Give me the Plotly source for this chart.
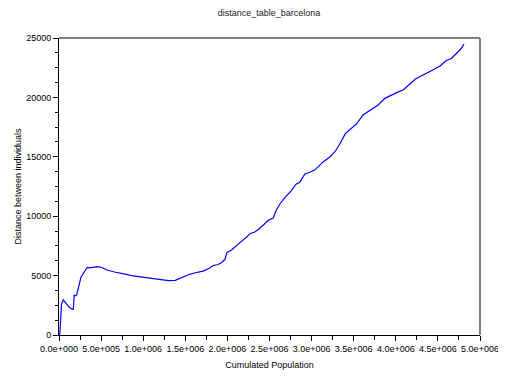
import plotly.graph_objects as go

# Cumulated population (x) and distance between individuals (y)
population = [
    0.0, 0.01e6, 0.03e6, 0.05e6, 0.08e6, 0.12e6, 0.155e6, 0.17e6, 0.18e6, 0.195e6,
    0.21e6, 0.24e6, 0.26e6, 0.29e6, 0.32e6, 0.335e6, 0.36e6, 0.40e6, 0.42e6, 0.46e6,
    0.50e6, 0.58e6, 0.66e6, 0.72e6, 0.80e6, 0.88e6, 1.00e6, 1.12e6, 1.20e6, 1.30e6,
    1.38e6, 1.44e6, 1.50e6, 1.56e6, 1.62e6, 1.71e6, 1.78e6, 1.83e6, 1.89e6, 1.93e6,
    1.97e6, 1.995e6, 2.05e6, 2.11e6, 2.17e6, 2.23e6, 2.27e6, 2.32e6, 2.37e6, 2.43e6,
    2.49e6, 2.545e6, 2.58e6, 2.625e6, 2.685e6, 2.76e6, 2.815e6, 2.86e6, 2.92e6, 2.98e6,
    3.04e6, 3.14e6, 3.22e6, 3.28e6, 3.34e6, 3.40e6, 3.46e6, 3.535e6, 3.61e6, 3.71e6,
    3.79e6, 3.87e6, 3.93e6, 4.01e6, 4.09e6, 4.15e6, 4.23e6, 4.30e6, 4.37e6, 4.45e6,
    4.525e6, 4.60e6, 4.66e6, 4.72e6, 4.77e6, 4.81e6,
]
distance = [
    0, 100, 2600, 2950, 2700, 2350, 2170, 2160, 3370, 3300,
    3370, 4300, 4850, 5200, 5500, 5680, 5650, 5680, 5750, 5760,
    5700, 5450, 5300, 5240, 5100, 4970, 4850, 4720, 4650, 4580,
    4600, 4780, 5000, 5130, 5240, 5380, 5600, 5850, 5930, 6100,
    6350, 6950, 7150, 7550, 7900, 8250, 8550, 8650, 8900, 9280,
    9680, 9850, 10500, 11050, 11590, 12150, 12700, 12850, 13550, 13700,
    13900, 14590, 15010, 15450, 16140, 16950, 17310, 17780, 18520, 19000,
    19360, 19920, 20150, 20400, 20650, 21000, 21520, 21800, 22030, 22350,
    22650, 23100, 23280, 23700, 24050, 24480,
]

x_tick_vals = [0, 0.5e6, 1.0e6, 1.5e6, 2.0e6, 2.5e6, 3.0e6, 3.5e6, 4.0e6, 4.5e6, 5.0e6]
x_tick_text = ["0.0e+000", "5.0e+005", "1.0e+006", "1.5e+006", "2.0e+006", "2.5e+006",
               "3.0e+006", "3.5e+006", "4.0e+006", "4.5e+006", "5.0e+006"]
y_tick_vals = [0, 5000, 10000, 15000, 20000, 25000]
y_tick_text = ["0", "5000", "10000", "15000", "20000", "25000"]

FONT = "Liberation Sans, Arial, sans-serif"

fig = go.Figure()
fig.add_trace(go.Scatter(x=population, y=distance, mode="lines",
                         line=dict(color="#0000ff", width=1.2), showlegend=False))

# page body has an 8px default margin, so the figure is 8px smaller
fig.update_layout(
    width=498, height=371,
    margin=dict(l=51, r=26, t=30, b=44),
    paper_bgcolor="white", plot_bgcolor="white",
    font=dict(family=FONT, size=9, color="#000000"),
    title=dict(text="distance_table_barcelona", x=(269 - 8) / 498, xanchor="center",
               y=1 - 5 / 371, yanchor="middle",
               font=dict(family=FONT, size=9, color="#222222")),
    xaxis=dict(
        range=[0, 5.0e6], tickmode="array", tickvals=x_tick_vals, ticktext=x_tick_text,
        ticks="outside", ticklen=5, tickcolor="#000", tickwidth=1, automargin=False,
        showline=True, linecolor="#000", linewidth=1, showgrid=False, zeroline=False,
        minor=dict(dtick=2.5e5, tick0=0, ticks="outside", ticklen=4, tickcolor="#000", showgrid=False),
        title=dict(text="Cumulated Population", font=dict(size=9), standoff=8),
        tickfont=dict(size=9),
    ),
    yaxis=dict(
        range=[0, 25000], tickmode="array", tickvals=y_tick_vals, ticktext=y_tick_text,
        ticks="outside", ticklen=5, tickcolor="#000", tickwidth=1, automargin=False,
        showline=True, linecolor="#000", linewidth=1, showgrid=False, zeroline=False,
        minor=dict(dtick=1250, tick0=0, ticks="outside", ticklen=3, tickcolor="#000", showgrid=False),
        title=dict(text="Distance between individuals", font=dict(size=9), standoff=3),
        tickfont=dict(size=9),
    ),
    shapes=[
        dict(type="line", xref="paper", yref="paper", x0=0, x1=1, y0=1, y1=1,
             line=dict(color="#808080", width=2)),
        dict(type="line", xref="paper", yref="paper", x0=1, x1=1, y0=0, y1=1,
             line=dict(color="#808080", width=2)),
    ],
)

fig.write_html("out.html")
